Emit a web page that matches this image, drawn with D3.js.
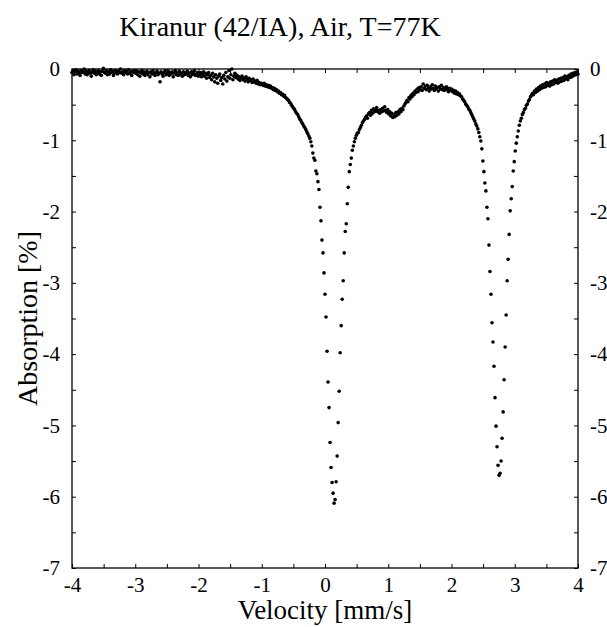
<!DOCTYPE html>
<html>
<head>
<meta charset="utf-8">
<script src="https://cdn.jsdelivr.net/npm/d3@7/dist/d3.min.js"></script>
<style>
    body { margin: 0; background: #fff; }
    .axis path { display: none; }
    .axis line { stroke: #000; stroke-width: 1; }
</style>
</head>
<body>
<div id="chart"></div>
<script>
// Spectrum channels: first velocity and step between channels (mm/s)
var velStart = -4;
var velStep = 0.016;

// Absorption [%] per channel
var absorption = [
    // -4.0 .. -3.0
    -0.05,-0.02,-0.08,-0.04,-0.01,-0.07,-0.03,-0.06,-0.09,-0.02,-0.05,-0.04,0.00,-0.07,-0.03,-0.08,-0.05,-0.02,-0.06,-0.10,-0.04,-0.01,-0.06,-0.03,-0.08,
    -0.05,-0.02,-0.07,-0.04,-0.09,-0.03,0.01,-0.05,-0.06,-0.02,-0.08,-0.04,-0.07,-0.01,-0.05,-0.03,-0.09,-0.06,-0.02,-0.04,-0.07,-0.03,-0.05,0.00,-0.06,
    -0.04,-0.08,-0.02,-0.05,-0.03,-0.07,-0.01,-0.06,-0.04,-0.09,-0.03,-0.05,-0.02,
    // -3.0 .. -2.0
    -0.06,-0.03,-0.08,-0.04,-0.10,-0.05,-0.02,-0.07,-0.04,-0.09,-0.06,-0.03,-0.08,-0.05,-0.11,-0.04,-0.07,-0.02,-0.06,-0.09,-0.05,-0.03,-0.08,-0.06,-0.18,
    -0.04,-0.07,-0.10,-0.05,-0.02,-0.08,-0.06,-0.03,-0.09,-0.05,-0.07,-0.04,-0.11,-0.06,-0.02,-0.08,-0.05,-0.09,-0.03,-0.07,-0.06,-0.10,-0.04,-0.08,-0.05,
    -0.07,-0.03,-0.09,-0.06,-0.11,-0.04,-0.08,-0.06,-0.02,-0.09,-0.07,-0.05,-0.10,
    // -2.0 .. -1.0
    -0.08,-0.05,-0.11,-0.07,-0.04,-0.10,-0.06,-0.13,-0.08,-0.05,-0.12,-0.09,-0.15,-0.06,-0.11,-0.18,-0.08,-0.13,-0.20,-0.10,-0.07,-0.16,-0.12,-0.21,-0.09,
    -0.14,-0.05,-0.17,-0.11,-0.02,-0.13,-0.08,0.00,-0.15,-0.10,-0.06,-0.12,-0.09,-0.14,-0.11,-0.16,-0.12,-0.10,-0.15,-0.13,-0.17,-0.11,-0.14,-0.18,-0.13,
    -0.16,-0.15,-0.19,-0.14,-0.18,-0.17,-0.20,-0.16,-0.21,-0.19,-0.22,-0.20,
    // -1.0 .. -0.2
    -0.21,-0.23,-0.20,-0.24,-0.22,-0.25,-0.23,-0.26,-0.24,-0.27,-0.26,-0.29,-0.27,-0.30,-0.29,-0.32,-0.31,-0.34,-0.33,-0.36,-0.35,-0.38,-0.37,-0.40,-0.41,
    -0.43,-0.44,-0.47,-0.48,-0.51,-0.53,-0.55,-0.57,-0.60,-0.62,-0.64,-0.67,-0.70,-0.72,-0.75,-0.77,-0.80,-0.82,-0.85,-0.88,-0.91,-0.94,-0.97,-1.02,-1.08,
    // first line
    -1.18,-1.25,-1.28,-1.43,-1.47,-1.58,-1.69,-1.94,-2.13,-2.40,-2.58,-2.86,-3.16,-3.48,-3.96,-4.39,-4.75,-5.24,-5.59,-5.80,-5.95,-6.09,
    -6.04,-5.79,-5.43,-4.96,-4.52,-3.98,-3.60,-3.23,-2.97,-2.58,-2.28,-2.17,-1.89,-1.66,-1.44,-1.34,-1.25,-1.14,
    // 0.45 .. 2.48
    -1.08,-1.02,-0.97,-0.93,-0.90,-0.89,-0.85,-0.82,-0.79,-0.75,-0.73,-0.71,-0.68,-0.66,-0.69,-0.63,-0.61,-0.65,-0.58,-0.62,-0.56,-0.60,-0.57,-0.54,-0.60,
    -0.58,-0.62,-0.57,-0.60,-0.55,-0.59,-0.53,-0.58,-0.61,-0.57,-0.63,-0.60,-0.66,-0.62,-0.68,-0.64,-0.67,-0.61,-0.65,-0.60,-0.63,-0.57,-0.60,-0.55,-0.57,
    -0.52,-0.49,-0.47,-0.44,-0.46,-0.40,-0.42,-0.37,-0.39,-0.34,-0.36,-0.31,-0.33,-0.28,-0.32,-0.26,-0.29,-0.25,-0.30,-0.21,-0.27,-0.24,-0.29,-0.23,-0.27,
    -0.31,-0.25,-0.28,-0.22,-0.27,-0.30,-0.24,-0.28,-0.26,-0.31,-0.25,-0.28,-0.23,-0.29,-0.26,-0.30,-0.27,-0.25,-0.29,-0.32,-0.27,-0.30,-0.28,-0.32,-0.30,
    -0.34,-0.31,-0.35,-0.33,-0.36,-0.35,-0.38,-0.39,-0.42,-0.44,-0.46,-0.49,-0.51,-0.53,-0.56,-0.58,-0.61,-0.64,-0.67,-0.70,-0.73,-0.77,-0.80,-0.84,-0.89,
    -0.95,-1.01,-1.12,
    // second line
    -1.29,-1.44,-1.60,-1.71,-1.94,-2.10,-2.47,-2.84,-3.16,-3.56,-3.83,-4.17,-4.61,-5.01,-5.30,-5.56,-5.70,
    -5.67,-5.50,-5.18,-4.81,-4.36,-3.90,-3.45,-2.97,-2.67,-2.32,-1.99,-1.82,-1.65,-1.43,-1.30,-1.15,
    // 3.02 .. 4.0
    -1.04,-0.95,-0.87,-0.79,-0.73,-0.69,-0.64,-0.61,-0.57,-0.55,-0.51,-0.49,-0.45,-0.43,-0.39,-0.37,-0.34,-0.36,-0.31,-0.33,-0.28,-0.31,-0.26,-0.29,-0.24,
    -0.27,-0.22,-0.26,-0.21,-0.25,-0.19,-0.23,-0.20,-0.24,-0.18,-0.22,-0.17,-0.21,-0.15,-0.19,-0.16,-0.20,-0.14,-0.18,-0.13,-0.17,-0.12,-0.16,-0.10,-0.14,
    -0.11,-0.15,-0.09,-0.12,-0.07,-0.11,-0.06,-0.09,-0.05,-0.08,-0.04,-0.07
];

var xTicks = d3.range(-4, 4.001, 0.5);
var yTicks = d3.range(-7, 0.001, 0.5);
var titleText = "Kiranur (42/IA), Air, T=77K";
var xLabel = "Velocity [mm/s]";
var yLabel = "Absorption [%]";

var serif = "'Liberation Serif', 'Times New Roman', Times, serif";

var margin = { top: 69, right: 29, bottom: 59, left: 72 };
var width = 607 - margin.left - margin.right,
    height = 627 - margin.top - margin.bottom;

var svg = d3.select("#chart").append("svg")
    .attr("width", 607)
    .attr("height", 627)
    .attr("font-family", serif);

var g = svg.append("g")
    .attr("transform", "translate(" + margin.left + "," + margin.top + ")");

var x = d3.scaleLinear().domain([-4, 4]).range([0, width]);
var y = d3.scaleLinear().domain([-7, 0]).range([height, 0]);

var points = absorption.map(function(v, i) {
    return { vel: velStart + i * velStep, abs: v };
});

// label whole numbers only, plain hyphen as minus
var fmt = function(d) {
    return Math.abs(d - Math.round(d)) < 1e-6 ? String(Math.round(d)) : "";
};

// axes, ticks pointing inward
var axes = [
    g.append("g").attr("transform", "translate(0," + height + ")")
        .call(d3.axisBottom(x).tickValues(xTicks).tickSize(-4).tickSizeOuter(0).tickPadding(9).tickFormat(fmt)),
    g.append("g")
        .call(d3.axisTop(x).tickValues(xTicks).tickSize(-4).tickSizeOuter(0).tickFormat("")),
    g.append("g")
        .call(d3.axisLeft(y).tickValues(yTicks).tickSize(-4).tickSizeOuter(0).tickPadding(12).tickFormat(fmt)),
    g.append("g").attr("transform", "translate(" + width + ",0)")
        .call(d3.axisRight(y).tickValues(yTicks).tickSize(-4).tickSizeOuter(0).tickPadding(12).tickFormat(fmt))
];
axes.forEach(function(a) {
    a.attr("class", "axis")
        .attr("font-family", serif)
        .attr("font-size", 21);
});

g.append("rect")
    .attr("width", width)
    .attr("height", height)
    .attr("fill", "none")
    .attr("stroke", "#000")
    .attr("stroke-width", 1.3);

g.selectAll(".dot")
    .data(points)
    .enter().append("circle")
    .attr("class", "dot")
    .attr("cx", function(d) { return x(d.vel); })
    .attr("cy", function(d) { return y(d.abs); })
    .attr("r", 1.8)
    .attr("fill", "#000");

svg.append("text")
    .attr("x", 280)
    .attr("y", 36)
    .attr("text-anchor", "middle")
    .attr("font-size", 28)
    .text(titleText);

svg.append("text")
    .attr("x", margin.left + width / 2)
    .attr("y", 619)
    .attr("text-anchor", "middle")
    .attr("font-size", 27)
    .text(xLabel);

svg.append("text")
    .attr("transform", "translate(37," + (margin.top + height / 2) + ") rotate(-90)")
    .attr("text-anchor", "middle")
    .attr("font-size", 28)
    .text(yLabel);
</script>
</body>
</html>
